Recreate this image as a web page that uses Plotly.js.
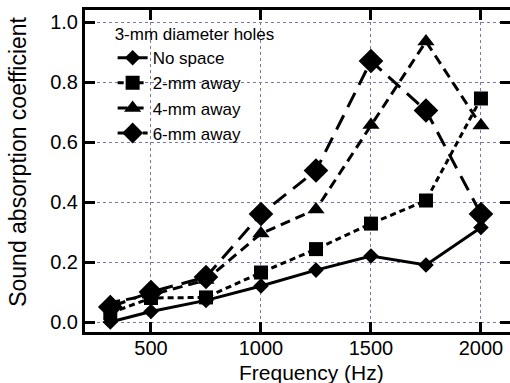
<!DOCTYPE html>
<html>
<head>
<meta charset="utf-8">
<script src="https://cdn.plot.ly/plotly-3.0.1.min.js"></script>
<style>html,body{margin:0;padding:0;background:#fff;}#chart{width:510px;height:383px;}</style>
</head>
<body>
<div id="chart"></div>
<script>
const freq = [315, 500, 750, 1000, 1250, 1500, 1750, 2000];
const noSpace = [0.00, 0.035, 0.072, 0.12, 0.173, 0.22, 0.19, 0.315];
const away2 = [0.03, 0.08, 0.082, 0.165, 0.243, 0.328, 0.405, 0.745];
const away4 = [0.065, 0.09, 0.14, 0.295, 0.375, 0.657, 0.935, 0.655];
const away6 = [0.05, 0.10, 0.15, 0.36, 0.505, 0.87, 0.705, 0.36];
const names = ['No space', '2-mm away', '4-mm away', '6-mm away'];
const legendTitle = '3-mm diameter holes';
const xTitle = 'Frequency (Hz)';
const yTitle = 'Sound absorption coefficient';
const xTicks = [500, 1000, 1500, 2000];
const yTicks = [0, 0.2, 0.4, 0.6, 0.8, 1.0];

const series = [noSpace, away2, away4, away6];
const symbols = ['diamond', 'square', 'triangle-up', 'diamond'];
const sizes = [12, 14, 15, 19];
const dashes = ['solid', '6px,4px', '10px,6px', '16px,9px'];

const traces = series.map((s, i) => ({
  x: freq, y: s, name: names[i], type: 'scatter', mode: 'lines+markers',
  legendgroup: 'g' + i,
  line: {color: '#000', width: 3, dash: dashes[i]},
  marker: {symbol: symbols[i], size: sizes[i], color: '#000'}
}));

const axisCommon = {
  showline: true, linecolor: '#000', linewidth: 3, mirror: 'ticks',
  ticks: 'inside', ticklen: 10, tickwidth: 3, tickcolor: '#000',
  showgrid: true, gridcolor: '#7a7ab0', gridwidth: 1, griddash: 'dot',
  zeroline: false,
  tickfont: {family: 'Liberation Sans, Arial, sans-serif', size: 20, color: '#000'}
};

const layout = {
  width: 510, height: 383,
  margin: {l: 85, r: 0, t: 10, b: 51},
  paper_bgcolor: '#fff', plot_bgcolor: '#fff',
  font: {family: 'Liberation Sans, Arial, sans-serif', color: '#000'},
  xaxis: Object.assign({}, axisCommon, {
    range: [200, 2132], tickvals: xTicks, ticktext: xTicks.map(String),
    ticklabelstandoff: -4
  }),
  yaxis: Object.assign({}, axisCommon, {
    range: [-0.0333, 1.04], tickvals: yTicks, ticktext: yTicks.map(v => v.toFixed(1))
  }),
  annotations: [
    {text: xTitle, xref: 'paper', yref: 'paper', x: 0.532, y: -0.127,
     xanchor: 'center', yanchor: 'middle', showarrow: false,
     font: {size: 21, color: '#000'}},
    {text: yTitle, xref: 'paper', yref: 'paper', x: -0.158, y: 0.528,
     xanchor: 'center', yanchor: 'middle', showarrow: false, textangle: -90,
     font: {size: 23, color: '#000'}}
  ],
  showlegend: true,
  legend: {
    x: 0.065, y: 0.975, xanchor: 'left', yanchor: 'top',
    bgcolor: 'rgba(0,0,0,0)', borderwidth: 0,
    font: {size: 17, color: '#000'},
    title: {text: legendTitle, font: {size: 17, color: '#000'}},
    tracegroupgap: 9, traceorder: 'normal'
  }
};

Plotly.newPlot('chart', traces, layout, {displayModeBar: false, staticPlot: true});
</script>
</body>
</html>
